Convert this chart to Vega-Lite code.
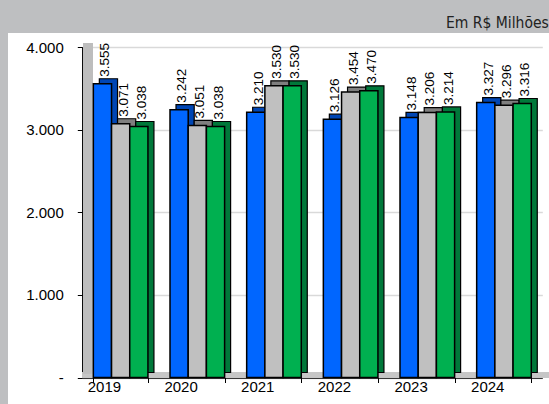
{
  "$schema": "https://vega.github.io/schema/vega-lite/v6.json",
  "width": 541,
  "height": 371,
  "autosize": {"type": "none"},
  "padding": {"left": 8, "top": 33, "right": 0, "bottom": 0},
  "background": "#BEBFC1",
  "config": {
    "view": {"fill": "white", "stroke": null},
    "font": "Liberation Sans",
    "locale": {"number": {"decimal": ",", "thousands": ".", "grouping": [3], "currency": ["R$ ", ""]}}
  },
  "title": {
    "text": "Em R$ Milhões",
    "anchor": "end",
    "font": "Liberation Sans Narrow, DejaVu Sans Condensed, Roboto, sans-serif",
    "fontSize": 15.5,
    "fontWeight": "normal",
    "color": "#222222",
    "offset": 2,
    "dx": -3
  },
  "resolve": {"scale": {"xOffset": "independent"}},
  "data": {
    "values": [
      {"year": "2019", "series": "Série A", "value": 3555},
      {"year": "2019", "series": "Série B", "value": 3071},
      {"year": "2019", "series": "Série C", "value": 3038},
      {"year": "2020", "series": "Série A", "value": 3242},
      {"year": "2020", "series": "Série B", "value": 3051},
      {"year": "2020", "series": "Série C", "value": 3038},
      {"year": "2021", "series": "Série A", "value": 3210},
      {"year": "2021", "series": "Série B", "value": 3530},
      {"year": "2021", "series": "Série C", "value": 3530},
      {"year": "2022", "series": "Série A", "value": 3126},
      {"year": "2022", "series": "Série B", "value": 3454},
      {"year": "2022", "series": "Série C", "value": 3470},
      {"year": "2023", "series": "Série A", "value": 3148},
      {"year": "2023", "series": "Série B", "value": 3206},
      {"year": "2023", "series": "Série C", "value": 3214},
      {"year": "2024", "series": "Série A", "value": 3327},
      {"year": "2024", "series": "Série B", "value": 3296},
      {"year": "2024", "series": "Série C", "value": 3316}
    ]
  },
  "layer": [
    {
      "mark": {"type": "rule", "strokeWidth": 5, "color": "#C6C6C6", "yOffset": -2.5, "xOffset": -11, "x2Offset": 18},
      "encoding": {
        "x": {"datum": "2019", "type": "nominal", "bandPosition": 0, "title": null},
        "x2": {"datum": "2024", "bandPosition": 1},
        "y": {"datum": 0, "type": "quantitative", "title": null}
      }
    },
    {
      "mark": {"type": "rule", "strokeWidth": 9.5, "color": "#BDBDBD", "xOffset": -5.5, "yOffset": -4, "y2Offset": -4},
      "encoding": {
        "x": {"datum": "2019", "type": "nominal", "bandPosition": 0, "title": null},
        "y": {"datum": 0, "type": "quantitative", "title": null},
        "y2": {"datum": 4000}
      }
    },
    {
      "mark": {"type": "bar", "stroke": "#000000", "strokeWidth": 1.2, "yOffset": -5, "y2Offset": -5},
      "encoding": {
        "x": {"field": "year", "type": "nominal", "title": null},
        "xOffset": {"field": "series", "type": "nominal", "scale": {"range": [6, 60.6], "paddingInner": 0, "paddingOuter": 0}},
        "y": {"field": "value", "type": "quantitative", "title": null},
        "fill": {
          "field": "series", "type": "nominal", "legend": null,
          "scale": {"range": ["#0046B4", "#7F7F7F", "#00783A"]}
        }
      }
    },
    {
      "encoding": {
        "x": {
          "field": "year", "type": "nominal", "title": null,
          "scale": {"range": [74.3, 534.3], "paddingInner": 0.288, "paddingOuter": 0.144},
          "axis": {
            "orient": "bottom", "offset": -26.5, "tickBand": "extent", "tickSize": 5,
            "tickColor": "#000000", "domainColor": "#000000", "domainWidth": 1.5,
            "labelFontSize": 15, "labelColor": "#000000", "labelPadding": 4,
            "labelAngle": 0, "grid": false, "title": null
          }
        },
        "xOffset": {"field": "series", "type": "nominal", "scale": {"range": [0, 54.6], "paddingInner": 0, "paddingOuter": 0}},
        "y": {
          "field": "value", "type": "quantitative", "title": null,
          "scale": {"domain": [0, 4000], "range": [344.5, 14], "nice": false},
          "axis": {
            "orient": "left", "offset": -74.3, "values": [0, 1000, 2000, 3000, 4000],
            "format": ",.0f", "labelExpr": "datum.value == 0 ? '-' : datum.label",
            "tickSize": 5, "tickColor": "#000000", "domainColor": "#000000", "domainWidth": 1.5,
            "labelPadding": 14, "labelFontSize": 15, "labelColor": "#000000",
            "grid": true, "gridColor": "#D9D9D9", "gridWidth": 1.5, "title": null
          }
        }
      },
      "layer": [
        {
          "mark": {"type": "bar", "stroke": "#000000", "strokeWidth": 1.5},
          "encoding": {
            "color": {
              "field": "series", "type": "nominal", "legend": null,
              "scale": {"range": ["#0066FF", "#C0C0C0", "#00B050"]}
            }
          }
        },
        {
          "mark": {"type": "text", "angle": 270, "align": "left", "baseline": "middle", "dx": 7, "dy": 3, "fontSize": 13.5, "color": "#000000"},
          "encoding": {
            "text": {"field": "value", "type": "quantitative", "format": ",.0f"}
          }
        }
      ]
    }
  ]
}
